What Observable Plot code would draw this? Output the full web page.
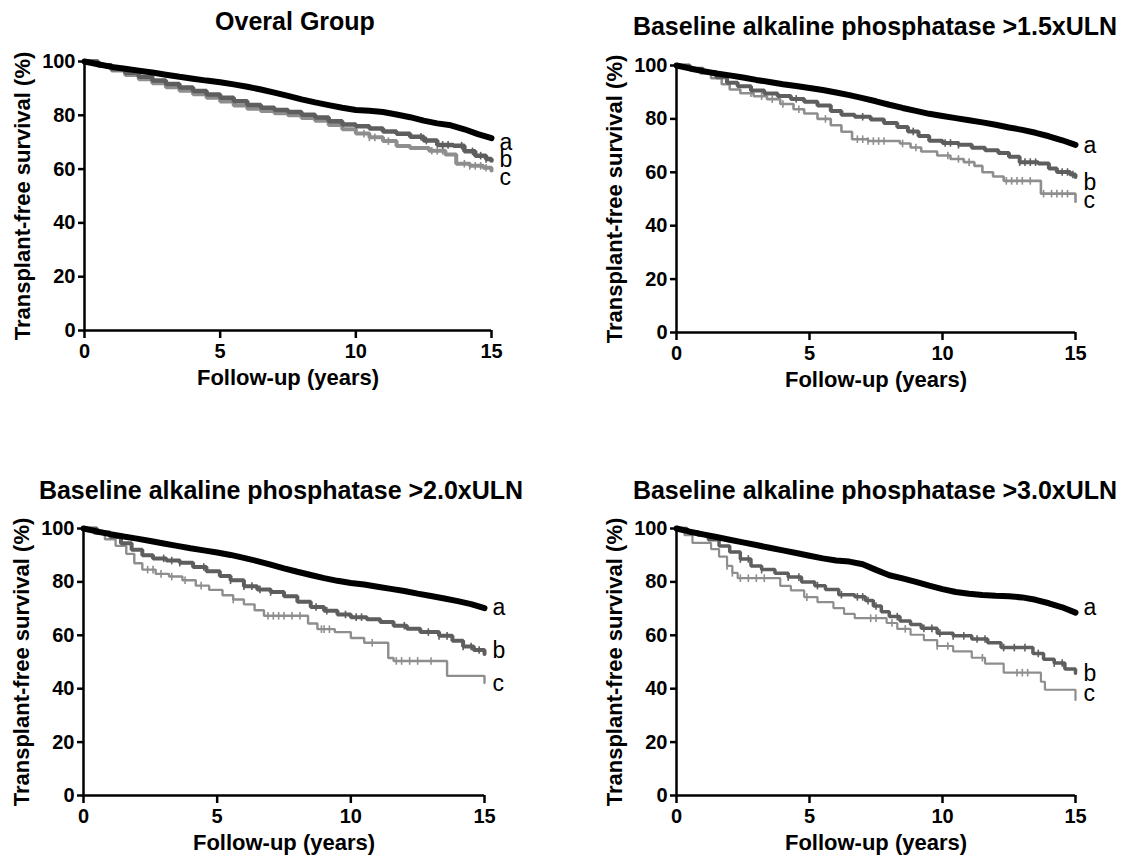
<!DOCTYPE html>
<html><head><meta charset="utf-8">
<script src="https://cdn.jsdelivr.net/npm/d3@7"></script>
<script src="https://cdn.jsdelivr.net/npm/@observablehq/plot@0.6"></script>
<style>
html,body{margin:0;padding:0;background:#fff;}
#root{position:relative;width:1132px;height:863px;overflow:hidden;font-family:"Liberation Sans",Arial,sans-serif;}
.title{position:absolute;font-weight:bold;font-size:25px;white-space:nowrap;transform:translate(-50%,-50%);color:#000;line-height:1;}
.panel{position:absolute;}
.panel svg{max-width:none !important;display:block;}
</style></head><body><div id="root"></div>
<script>
// ---------- text ----------
const titles = ["Overal Group", "Baseline alkaline phosphatase >1.5xULN", "Baseline alkaline phosphatase >2.0xULN", "Baseline alkaline phosphatase >3.0xULN"];
const xLabel = "Follow-up (years)";
const yLabel = "Transplant-free survival (%)";
const xTicks = [0, 5, 10, 15];
const yTicks = [0, 20, 40, 60, 80, 100];
const groupNames = ["a", "b", "c"];

// ---------- series: [years, survival %] step points ----------
const p1_a = [[0,100],[0.5,99],[1,98],[1.5,97.3],[2,96.6],[2.5,95.9],[3,95.1],[3.5,94.3],[4,93.6],[4.5,92.9],[5,92.3],[5.5,91.5],[6,90.6],[6.5,89.6],[7,88.4],[7.5,87.2],[8,85.9],[8.5,84.8],[9,83.8],[9.5,82.8],[10,82],[10.5,81.7],[11,81.2],[11.5,80.3],[12,79.3],[12.5,78],[13,77],[13.5,76.3],[14,74.8],[14.5,73],[15,71.5]];
const p1_b = [[0,100],[0.5,98.6],[1,97.2],[1.5,95.8],[2,94.3],[2.5,92.9],[3,91.6],[3.5,90.3],[4,89],[4.5,87.7],[5,86.5],[5.5,85.2],[6,83.8],[6.5,82.8],[7,82],[7.5,81.2],[8,80.2],[8.5,79.2],[9,77.8],[9.5,76.6],[10,75.9],[10.5,75.1],[11,74],[11.5,73.1],[12,72],[12.5,70.6],[13,69],[13.6,68.7],[14,66.6],[14.4,65],[14.8,63.8],[15,63.2]];
const p1_c = [[0,100],[0.5,98.4],[1,96.7],[1.5,95],[2,93.4],[2.5,91.9],[3,90.4],[3.5,89.1],[4,87.8],[4.5,86.5],[5,85.1],[5.5,83.6],[6,82.4],[6.5,81.6],[7,80.8],[7.5,80],[8,79],[8.5,78],[9,76.4],[9.5,74.8],[10,73.2],[10.5,71.8],[11,70.4],[11.5,68.6],[12,67.8],[12.7,66.8],[13.3,65.4],[13.7,62],[14.2,61.2],[14.7,60.5],[15,59.5]];

const p2_a = [[0,100],[0.5,98.9],[1,97.9],[1.5,97],[2,96.3],[2.5,95.5],[3,94.6],[3.5,93.8],[4,93],[4.5,92.3],[5,91.6],[5.5,90.8],[6,89.9],[6.5,88.9],[7,87.8],[7.5,86.6],[8,85.3],[8.5,84.1],[9,83],[9.5,81.9],[10,81.1],[10.5,80.3],[11,79.5],[11.5,78.7],[12,77.8],[12.5,76.8],[13,75.9],[13.5,74.8],[14,73.5],[14.5,72],[15,70.3]];
const p2_b = [[0,100],[0.5,98.8],[1,97.6],[1.5,95.6],[1.9,93.5],[2.3,92.2],[2.8,90.6],[3.3,89.5],[3.8,88.6],[4.3,87.5],[4.8,86.4],[5.3,85],[5.8,83],[6.2,81.6],[6.7,80.8],[7.3,79.8],[7.8,78.5],[8.3,77],[8.7,75.3],[9.1,73.6],[9.5,71.8],[10,71],[10.6,70.3],[11.1,69.2],[11.6,68.3],[12.1,67.2],[12.5,65.8],[12.9,63.8],[13.6,63.3],[14,61.4],[14.3,60.1],[14.8,59.2],[15,58.2]];
const p2_c = [[0,100],[0.4,98.5],[0.9,97],[1.3,95.2],[1.7,93],[2,91],[2.4,89.6],[2.9,88.5],[3.4,87.4],[3.9,85.6],[4.4,83.6],[4.8,82],[5.3,80],[5.8,77.6],[6.2,75.2],[6.6,72.4],[7.2,71.7],[8.4,70.8],[8.8,69.3],[9.2,67.8],[9.8,66.3],[10.3,65],[10.8,63.8],[11.2,62.4],[11.5,60],[11.9,58.4],[12.3,56.8],[13.7,52],[15,49]];

const p3_a = [[0,100],[0.5,98.9],[1,97.9],[1.5,97],[2,96.2],[2.5,95.3],[3,94.4],[3.5,93.5],[4,92.6],[4.5,91.8],[5,91],[5.5,90.1],[6,89],[6.5,87.8],[7,86.5],[7.5,85.1],[8,83.8],[8.5,82.6],[9,81.4],[9.5,80.4],[10,79.6],[10.5,79],[11,78.2],[11.5,77.4],[12,76.6],[12.5,75.6],[13,74.7],[13.5,73.8],[14,72.8],[14.5,71.7],[15,70.2]];
const p3_b = [[0,100],[0.5,98.5],[1,96.8],[1.4,94.5],[1.8,92],[2.2,90],[2.6,88.8],[3.1,88],[3.6,87.2],[4.1,85.6],[4.6,84],[5.1,82.2],[5.5,80.6],[6,78.4],[6.5,77.2],[7,76.2],[7.5,74.6],[8,72.6],[8.5,70.6],[9,69.2],[9.5,67.8],[10,66.8],[10.6,66],[11.1,65],[11.6,63.6],[12.1,62.5],[12.6,61.2],[13.3,59.8],[13.8,58],[14.2,55.8],[14.6,54.5],[15,53]];
const p3_c = [[0,100],[0.4,98],[0.8,96],[1.2,93.5],[1.6,90.5],[1.9,87],[2.2,84.6],[2.7,83],[3.2,82],[3.7,80.6],[4.2,78.6],[4.7,77],[5.2,75],[5.6,73.4],[6,71.6],[6.4,69.4],[6.75,67.3],[8.4,64.4],[8.75,62.3],[9.4,61.2],[10,59],[10.5,57.2],[11.4,51.5],[11.6,50.4],[13.6,44.8],[15,42.2]];

const p4_a = [[0,100],[0.5,98.8],[1,97.8],[1.5,96.8],[2,95.8],[2.5,94.8],[3,93.8],[3.5,92.8],[4,91.8],[4.5,90.8],[5,89.8],[5.5,88.8],[6,88],[6.5,87.6],[7,86.6],[7.5,84.5],[8,82.5],[8.5,81.3],[9,80],[9.5,78.6],[10,77.3],[10.5,76.2],[11,75.6],[11.5,75.1],[12,74.8],[12.5,74.6],[13,74.2],[13.5,73.3],[14,72],[14.5,70.5],[15,68.5]];
const p4_b = [[0,100],[0.4,98.8],[0.8,97.6],[1.2,95.8],[1.6,93.4],[2,91.2],[2.4,88.6],[2.8,86],[3.2,84.6],[3.7,83.2],[4.2,81.8],[4.7,80],[5.2,78.6],[5.6,77.2],[6.1,75.2],[6.7,74.4],[7.1,73],[7.4,71],[7.7,68.8],[8,67],[8.4,65.4],[8.8,64],[9.2,62.6],[9.8,60.8],[10.4,59.8],[11.1,58.6],[11.7,57.2],[12.2,55.4],[13.4,53.2],[13.8,51],[14.2,49.6],[14.6,47.4],[15,45.8]];
const p4_c = [[0,100],[0.3,97.5],[0.6,94.6],[1.3,92.3],[1.6,89.5],[1.9,86],[2.1,83.4],[2.3,81.4],[3.9,78.5],[4.3,76.8],[4.8,74.3],[5.3,72.4],[5.9,70.2],[6.3,68],[6.7,66.4],[7.9,64.6],[8.3,62.4],[8.8,60.2],[9.3,58.2],[9.8,56],[10.4,54],[11.1,51.6],[11.6,49.4],[12.3,46],[13.7,42.6],[13.85,39.6],[15,35.8]];

// censored observations (years)
const p1_bCens = [12.4,12.6,13.2,13.4,13.9,14.3,14.6,14.8];
const p1_cCens = [10.3,10.5,10.7,11.2,12.8,13.0,13.2,14.0,14.2,14.4,14.6,14.8];
const p2_bCens = [4.5,7.0,8.9,10.1,10.3,10.6,12.9,13.1,13.3,13.5,14.5,14.7,14.9];
const p2_cCens = [2.8,3.2,3.6,4.0,4.6,5.6,6.8,7.0,7.2,7.4,7.6,7.8,8.5,9.0,10.2,10.6,11.0,12.4,12.6,12.8,13.0,13.3,13.8,14.1,14.3,14.5,14.7];
const p3_bCens = [3,3.3,3.6,4.5,5.5,6,6.3,6.6,7.0,8.7,9.1,9.8,10.2,10.4,12.0,12.9,13.3,13.6,14.2,14.5,14.8];
const p3_cCens = [2.4,2.6,2.9,3.3,3.8,4.4,5.6,6.9,7.1,7.3,7.5,7.8,8.1,8.9,9.0,9.2,10.8,11.7,11.9,12.2,12.5,13.0];
const p4_bCens = [2.4,2.7,3.2,4.2,4.6,5.3,6.2,6.8,7.0,7.2,7.5,8.3,9.3,9.6,9.9,10.4,10.8,11.3,11.6,12.3,12.7,13.1,13.6,14.2,14.5];
const p4_cCens = [1.9,2.1,2.4,2.7,3.0,3.3,4.9,7.3,7.5,8.1,8.6,9.8,10.2,11.5,12.8,13.0,13.2];

// label anchor values (survival %) for a, b, c
const p1_labels = [70, 63.5, 57];
const p2_labels = [70, 56, 49.4];
const p3_labels = [70.4, 54.3, 41.9];
const p4_labels = [70.4, 45.7, 38.2];

// ---------- layout ----------
const colors = ["#000000", "#5e5e5e", "#8e8e8e"];
const panels = [
  {title: titles[0], series: [p1_a, p1_b, p1_c], cens: [[], p1_bCens, p1_cCens], labels: p1_labels, sw: [6, 4.5, 4], ax: 84, ay: 61, w: 407, h: 269, tx: 295, ty: 21},
  {title: titles[1], series: [p2_a, p2_b, p2_c], cens: [[], p2_bCens, p2_cCens], labels: p2_labels, sw: [6, 4, 2.6], ax: 676, ay: 65, w: 399, h: 267, tx: 875, ty: 26},
  {title: titles[2], series: [p3_a, p3_b, p3_c], cens: [[], p3_bCens, p3_cCens], labels: p3_labels, sw: [6, 4, 2.4], ax: 83, ay: 528, w: 401, h: 267, tx: 281, ty: 490},
  {title: titles[3], series: [p4_a, p4_b, p4_c], cens: [[], p4_bCens, p4_cCens], labels: p4_labels, sw: [6, 3.5, 2.2], ax: 676, ay: 528, w: 399, h: 267, tx: 875, ty: 490}
];
const ML = 90, MR = 45, MT = 12, MB = 72;

const vline = {draw(ctx, size) { const r = Math.sqrt(size / Math.PI); ctx.moveTo(0, -r); ctx.lineTo(0, r); }};
function stepAt(series, t) { let v = series[0][1]; for (const [x, y] of series) { if (x <= t) v = y; else break; } return v; }

const root = document.getElementById("root");
for (const p of panels) {
  const marks = [];
  p.series.slice().reverse().forEach((s, k) => {
    const i = p.series.length - 1 - k;
    marks.push(Plot.line(s, {x: d => d[0], y: d => d[1], curve: i === 0 ? "linear" : "step-after", stroke: colors[i], strokeWidth: p.sw[i], strokeLinejoin: "miter"}));
    if (p.cens[i].length) {
      marks.push(Plot.dot(p.cens[i], {x: d => d, y: d => stepAt(s, d), symbol: vline, r: 3.8, stroke: colors[i], strokeWidth: 1.6, fill: "none"}));
    }
  });
  marks.push(
    Plot.ruleY([0], {strokeWidth: 2.5}),
    Plot.ruleX([0], {strokeWidth: 2.5}),
    Plot.axisY(yTicks, {tickSize: 6, tickPadding: 3, strokeWidth: 2.5, label: null}),
    Plot.axisX(xTicks, {tickSize: 8, tickPadding: 5, strokeWidth: 2.5, label: null}),
    Plot.text([yLabel], {frameAnchor: "left", textAnchor: "middle", rotate: -90, dx: -62, fontSize: 22, fontWeight: "bold"}),
    Plot.text([xLabel], {frameAnchor: "bottom", dy: 54, fontSize: 22, fontWeight: "bold"}),
    Plot.text(groupNames, {x: (d, i) => p.series[i][p.series[i].length - 1][0], y: (d, i) => p.labels[i], dx: 8, textAnchor: "start", fontSize: 23, fontWeight: "normal"})
  );
  const svg = Plot.plot({
    width: ML + p.w + MR, height: MT + p.h + MB,
    marginLeft: ML, marginRight: MR, marginTop: MT, marginBottom: MB,
    x: {domain: [0, 15]}, y: {domain: [0, 100]},
    style: {fontFamily: "'Liberation Sans', Arial, sans-serif", fontSize: "20px", fontWeight: "bold", color: "#000", background: "transparent", overflow: "visible", maxWidth: "none"},
    marks
  });
  const wrap = document.createElement("div");
  wrap.className = "panel";
  wrap.style.left = (p.ax - ML) + "px";
  wrap.style.top = (p.ay - MT) + "px";
  wrap.style.width = (ML + p.w + MR) + "px";
  wrap.appendChild(svg);
  root.appendChild(wrap);
  const t = document.createElement("div");
  t.className = "title";
  t.textContent = p.title;
  t.style.left = p.tx + "px";
  t.style.top = p.ty + "px";
  root.appendChild(t);
}
</script></body></html>
